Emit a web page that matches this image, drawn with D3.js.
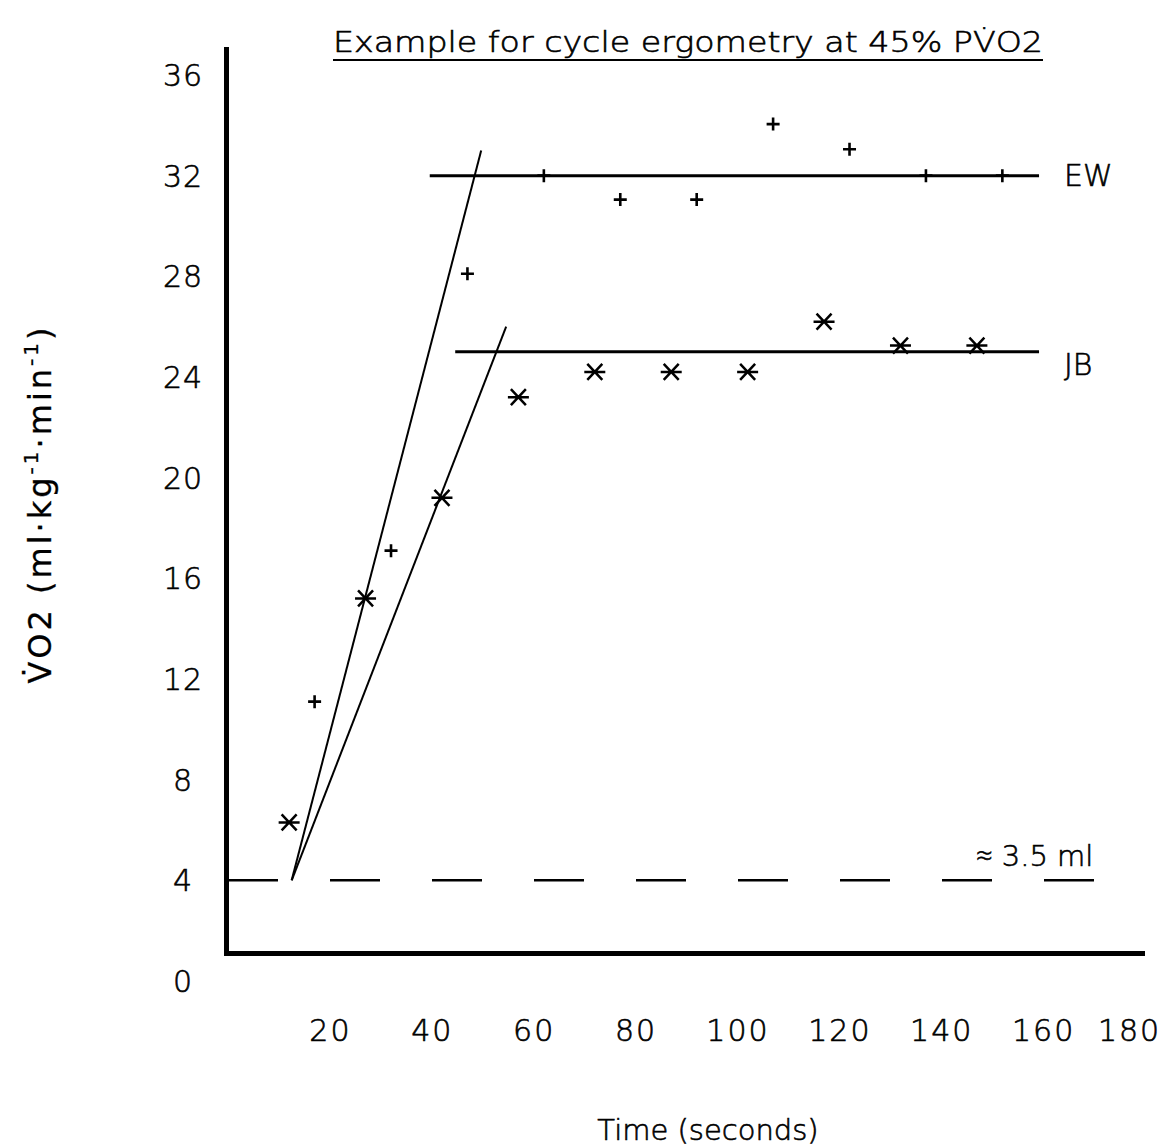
<!DOCTYPE html>
<html>
<head>
<meta charset="utf-8">
<script src="https://cdn.jsdelivr.net/npm/d3@7"></script>
<style>
  html, body { margin: 0; padding: 0; background: #fff; }
  svg { display: block; }
  text { font-family: "DejaVu Sans", "Open Sans", sans-serif; font-weight: 200; fill: #000;
         stroke: #000; stroke-width: 0.6px; }
</style>
</head>
<body>
<svg id="chart" width="1170" height="1148"></svg>
<script>
// Oxygen uptake during cycle ergometry at 45% peak VO2, two subjects
const xTicks = [20, 40, 60, 80, 100, 120, 140, 160, 180];
const yTicks = [0, 4, 8, 12, 16, 20, 24, 28, 32, 36];

const ewTime  = [17, 32, 47, 62, 77, 92, 107, 122, 137, 152];
const ewVO2   = [11.1, 17.1, 28.1, 32, 31.05, 31.05, 34.05, 33.05, 32, 32];
const jbTime  = [12, 27, 42, 57, 72, 87, 102, 117, 132, 147];
const jbVO2   = [6.3, 15.2, 19.2, 23.2, 24.2, 24.2, 24.2, 26.2, 25.25, 25.25];

// fitted on-kinetics ramps and steady-state levels
const ewRamp    = [[12.5, 4], [49.7, 33]];
const jbRamp    = [[12.5, 4], [54.6, 26]];
const ewPlateau = [[39.6, 32], [159.2, 32]];
const jbPlateau = [[44.6, 25], [159.2, 25]];
const restLine  = [[0, 4], [170, 4]];

const svg = d3.select("#chart");
const x = d3.scaleLinear().domain([0, 180]).range([228, 1145]);
const y = d3.scaleLinear().domain([0, 36]).range([981, 75]);

// axis frame
svg.append("path")
  .attr("d", "M226.5,47 V953.5 H1145")
  .attr("fill", "none").attr("stroke", "#000").attr("stroke-width", 5)
  .attr("stroke-linejoin", "miter");

// y tick labels
const yAxis = svg.append("g").attr("transform", "translate(226,0)")
  .call(d3.axisLeft(y).tickValues(yTicks).tickSize(0).tickFormat(d3.format("d")));
yAxis.select(".domain").remove();
yAxis.selectAll("text")
  .attr("x", -43).attr("text-anchor", "middle")
  .style("font-size", "30px").style("letter-spacing", "1px").attr("dy", "0.35em");

// x tick labels
const xAxis = svg.append("g").attr("transform", "translate(0,953)")
  .call(d3.axisBottom(x).tickValues(xTicks).tickSize(0).tickFormat(d3.format("d")));
xAxis.select(".domain").remove();
xAxis.selectAll("text")
  .attr("y", 77).attr("dy", "0.35em")
  .attr("dx", d => d === 180 ? -16 : 0)
  .style("font-size", "30px").style("letter-spacing", "2px");

const line = d3.line().x(d => x(d[0])).y(d => y(d[1]));

// resting level
svg.append("path").attr("d", line(restLine))
  .attr("fill", "none").attr("stroke", "#000").attr("stroke-width", 2.5)
  .attr("stroke-dasharray", "50,52");

// ramps
[ewRamp, jbRamp].forEach(r => {
  svg.append("path").attr("d", line(r))
    .attr("fill", "none").attr("stroke", "#000").attr("stroke-width", 2);
});
// plateaus
[ewPlateau, jbPlateau].forEach(p => {
  svg.append("path").attr("d", line(p))
    .attr("fill", "none").attr("stroke", "#000").attr("stroke-width", 3);
});

// EW markers: plus signs
const plus = d3.symbol().type({
  draw(ctx, size) {
    const r = 6.5;
    ctx.moveTo(-r, 0); ctx.lineTo(r, 0);
    ctx.moveTo(0, -r); ctx.lineTo(0, r);
  }
});
svg.append("g").selectAll("path")
  .data(ewTime.map((t, i) => [t, ewVO2[i]]))
  .join("path")
  .attr("transform", d => `translate(${x(d[0])},${y(d[1])})`)
  .attr("d", plus())
  .attr("fill", "none").attr("stroke", "#000").attr("stroke-width", 2.6);

// JB markers: six-armed asterisks
const star = d3.symbol().type({
  draw(ctx, size) {
    const w = 10.5, dx = 7.5, dy = 8;
    ctx.moveTo(-w, 0); ctx.lineTo(w, 0);
    ctx.moveTo(-dx, -dy); ctx.lineTo(dx, dy);
    ctx.moveTo(-dx, dy); ctx.lineTo(dx, -dy);
  }
});
svg.append("g").selectAll("path")
  .data(jbTime.map((t, i) => [t, jbVO2[i]]))
  .join("path")
  .attr("transform", d => `translate(${x(d[0])},${y(d[1])})`)
  .attr("d", star())
  .attr("fill", "none").attr("stroke", "#000").attr("stroke-width", 2.5);

// series labels
svg.append("text").attr("x", 1064).attr("y", y(32)).attr("dy", "0.35em")
  .style("font-size", "30px").text("EW");
svg.append("text").attr("x", 1064).attr("y", y(24.5)).attr("dy", "0.35em")
  .style("font-size", "30px").text("JB");
svg.append("text").attr("x", 976).attr("y", 866)
  .style("font-size", "29px").text("≈ 3.5 ml");

// title
svg.append("text").attr("x", 333).attr("y", 52)
  .attr("textLength", 710).attr("lengthAdjust", "spacingAndGlyphs")
  .style("font-size", "29px").text("Example for cycle ergometry at 45% PV\u0307O2");
svg.append("line").attr("x1", 333).attr("x2", 1043).attr("y1", 60).attr("y2", 60)
  .attr("stroke", "#000").attr("stroke-width", 2);

// axis titles
svg.append("text").attr("x", 708).attr("y", 1130).attr("dy", "0.35em")
  .attr("text-anchor", "middle").style("font-size", "29px").text("Time (seconds)");

const yl = svg.append("text")
  .attr("transform", "translate(51,504) rotate(-90)")
  .attr("text-anchor", "middle").style("font-size", "32px")
  .style("font-weight", "400").style("stroke-width", "0.3px").style("letter-spacing", "3px");
yl.append("tspan").text("V\u0307O2 (ml·kg");
yl.append("tspan").attr("dy", -13).style("font-size", "20px").text("-1");
yl.append("tspan").attr("dy", 13).text("·min");
yl.append("tspan").attr("dy", -13).style("font-size", "20px").text("-1");
yl.append("tspan").attr("dy", 13).text(")");
</script>
</body>
</html>
